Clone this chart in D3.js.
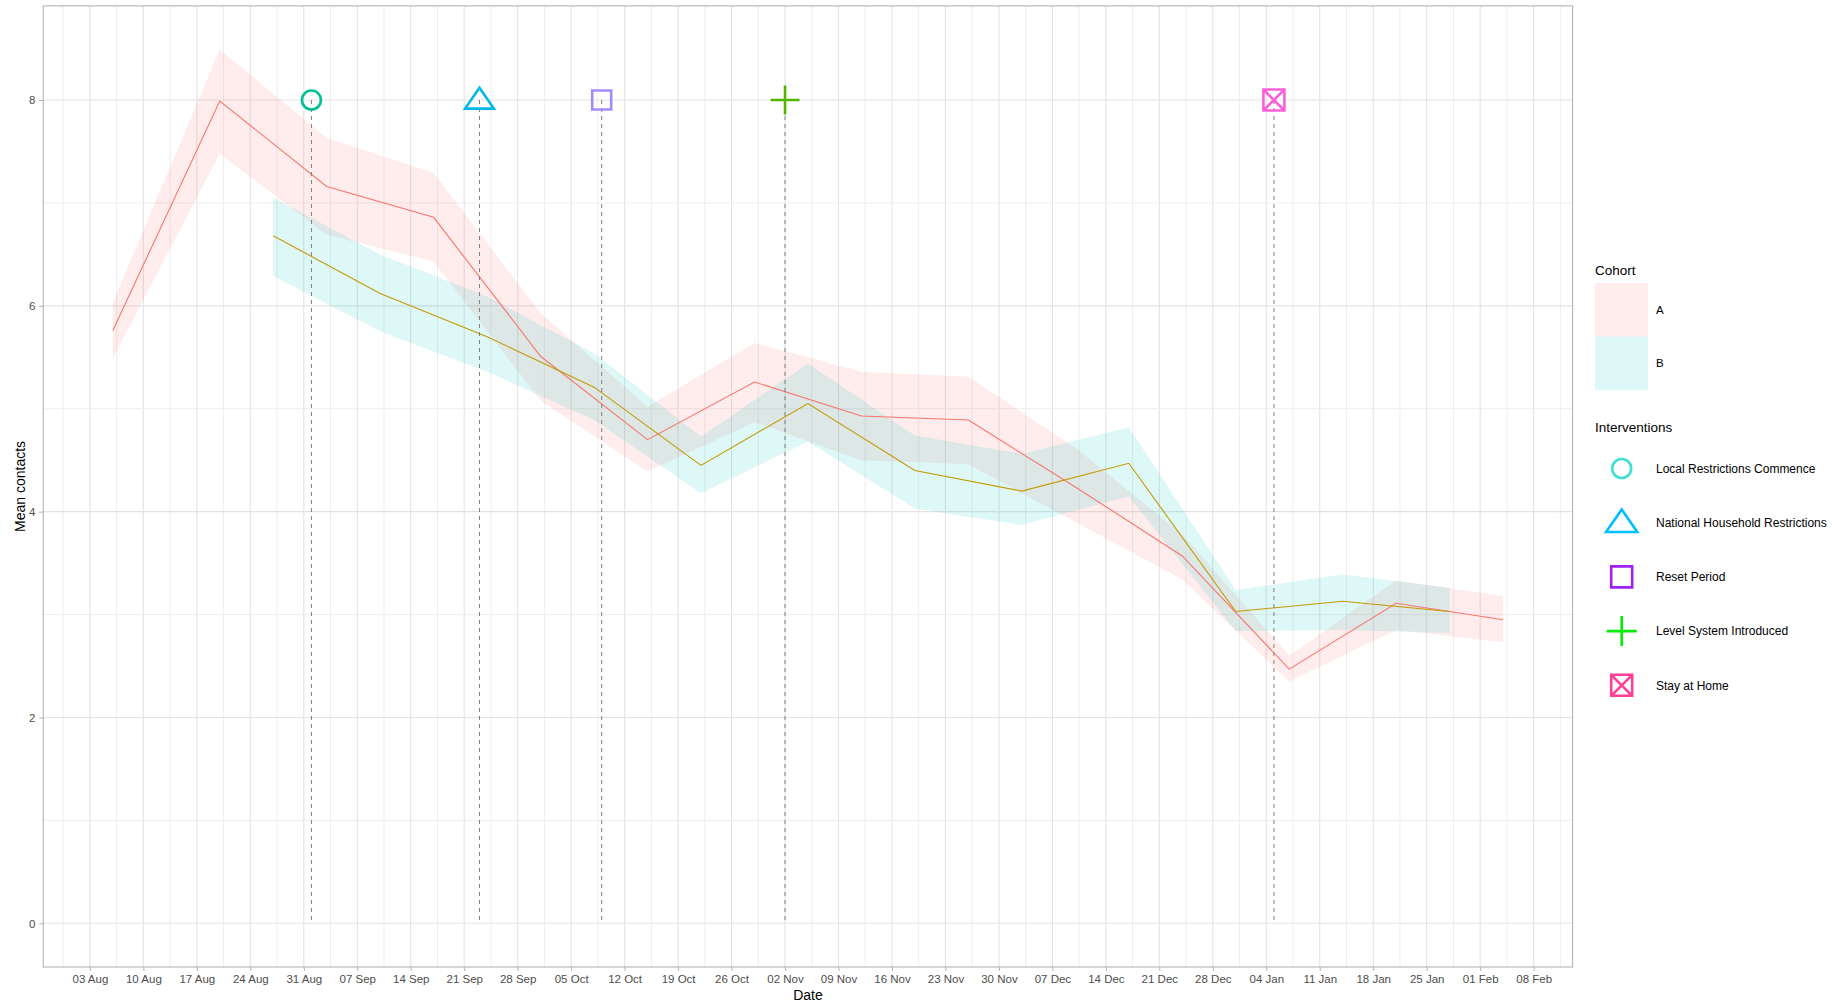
<!DOCTYPE html>
<html>
<head>
<meta charset="utf-8">
<script src="https://cdn.jsdelivr.net/npm/d3@7"></script>
<style>
  body { margin: 0; background: #fff; }
  svg { display: block; font-family: 'Liberation Sans', Arial, sans-serif; }
</style>
</head>
<body>
<div id="svg"></div>
<script>

// Cohort A, fortnightly means with confidence band.
var datesA = ['2020-08-06', '2020-08-20', '2020-09-03', '2020-09-17', '2020-10-01',
              '2020-10-15', '2020-10-29', '2020-11-12', '2020-11-26', '2020-12-10',
              '2020-12-24', '2021-01-07', '2021-01-21', '2021-02-04'];
var meanA = [5.76, 7.99, 7.16, 6.86, 5.51, 4.70, 5.26, 4.93, 4.89, 4.24, 3.57, 2.47, 3.11, 2.95];
var lowA  = [5.49, 7.48, 6.69, 6.43, 5.08, 4.39, 4.87, 4.50, 4.46, 3.90, 3.34, 2.35, 2.85, 2.73];
var highA = [6.03, 8.49, 7.63, 7.29, 5.93, 5.02, 5.64, 5.36, 5.31, 4.62, 3.78, 2.60, 3.33, 3.18];

// Cohort B.
var datesB = ['2020-08-27', '2020-09-10', '2020-09-24', '2020-10-08', '2020-10-22',
              '2020-11-05', '2020-11-19', '2020-12-03', '2020-12-17', '2020-12-31',
              '2021-01-14', '2021-01-28'];
var meanB = [6.68, 6.12, 5.70, 5.21, 4.45, 5.05, 4.40, 4.20, 4.47, 3.03, 3.13, 3.03];
var lowB  = [6.29, 5.75, 5.36, 4.89, 4.18, 4.68, 4.03, 3.87, 4.15, 2.84, 2.85, 2.82];
var highB = [7.05, 6.50, 6.09, 5.54, 4.73, 5.44, 4.74, 4.56, 4.82, 3.24, 3.39, 3.26];

// Interventions, all drawn at the same height.
var interventionNames = ['Local Restrictions Commence', 'National Household Restrictions',
                         'Reset Period', 'Level System Introduced', 'Stay at Home'];
var interventionDates = ['2020-09-01', '2020-09-23', '2020-10-09', '2020-11-02', '2021-01-05'];
var interventionLevel = 8;

var cohortNames = ['A', 'B'];
var yTicks = [0, 2, 4, 6, 8];


var config = {
  width: 1836,
  height: 1002,
  panel: { left: 43.3, right: 1572.6, top: 5.9, bottom: 967 },
  fontFamily: "'Liberation Sans', Arial, sans-serif"
};

var colors = {
  lineA: '#F8766D',
  lineB: '#C49A00',
  fillA: '#F8766D',
  fillB: '#00BFC4',
  grid: '#E3E3E3',
  border: '#B3B3B3',
  axisText: '#4D4D4D',
  // marker colours on the plot, and the ones used in the legend
  marks: ['#00C094', '#00B6EB', '#A58AFF', '#53B400', '#FB61D7'],
  keys: ['#40E0D0', '#00BFFF', '#A020F0', '#00EE00', '#FF3E96']
};
var shapes = ['circle', 'triangle', 'square', 'plus', 'boxx'];

function translate(x, y) {
  return 'translate(' + x + ', ' + y + ')';
}

var parse = d3.utcParse('%Y-%m-%d');

function rows(dates, mean, low, high) {
  return dates.map(function(d, i) {
    return { date: parse(d), mean: mean[i], low: low[i], high: high[i] };
  });
}

var dataA = rows(datesA, meanA, lowA, highA);
var dataB = rows(datesB, meanB, lowB, highB);
var interventions = interventionNames.map(function(n, i) {
  return { name: n, date: parse(interventionDates[i]), shape: shapes[i],
           mark: colors.marks[i], key: colors.keys[i] };
});

// Path for a marker shape centred on 0,0 (s is the full width).
function shapePath(shape, s) {
  var h = s / 2;
  if (shape === 'circle') {
    return d3.arc()({ innerRadius: 0, outerRadius: h, startAngle: 0, endAngle: 2 * Math.PI });
  }
  if (shape === 'triangle') {
    var t = s * 0.85;
    return 'M0,' + (-t * 0.6) + 'L' + (h * 1.2) + ',' + (t * 0.42) + 'L' + (-h * 1.2) + ',' + (t * 0.42) + 'Z';
  }
  if (shape === 'square') {
    return 'M' + (-h) + ',' + (-h) + 'H' + h + 'V' + h + 'H' + (-h) + 'Z';
  }
  if (shape === 'plus') {
    return 'M' + (-h) + ',0H' + h + 'M0,' + (-h) + 'V' + h;
  }
  // square with a cross inside
  return 'M' + (-h) + ',' + (-h) + 'H' + h + 'V' + h + 'H' + (-h) + 'Z' +
         'M' + (-h) + ',' + (-h) + 'L' + h + ',' + h + 'M' + h + ',' + (-h) + 'L' + (-h) + ',' + h;
}

var shapeSize = { circle: 19, triangle: 24, square: 19, plus: 29, boxx: 21 };
var keySize = { circle: 19, triangle: 26, square: 21, plus: 30, boxx: 21 };


var svg = d3.select('#svg').append('svg')
  .attr('width', config.width)
  .attr('height', config.height);

/**
 * Scales, with the 5% padding ggplot adds.
 **/
var allDates = dataA.concat(dataB).map(function(d) { return d.date; });
var xExt = d3.extent(allDates);
var xPad = (xExt[1] - xExt[0]) * 0.05;
var x = d3.scaleUtc()
  .domain([new Date(+xExt[0] - xPad), new Date(+xExt[1] + xPad)])
  .range([config.panel.left, config.panel.right]);

var yMax = d3.max(highA.concat(highB));
var yPad = yMax * 0.05;
var y = d3.scaleLinear()
  .domain([-yPad, yMax + yPad])
  .range([config.panel.bottom, config.panel.top]);

var panel = config.panel;

// Grid lines.
var weeks = d3.utcMonday.range(x.domain()[0], x.domain()[1]);
var halfWeeks = weeks.map(function(d) { return d3.utcHour.offset(d, -84); })
  .concat([d3.utcHour.offset(weeks[weeks.length - 1], 84)])
  .filter(function(d) { return d >= x.domain()[0] && d <= x.domain()[1]; });

var grid = svg.append('g');

grid.selectAll('.vminor').data(halfWeeks).enter()
  .append('line')
    .attr('x1', function(d) { return x(d); })
    .attr('x2', function(d) { return x(d); })
    .attr('y1', panel.top)
    .attr('y2', panel.bottom)
    .attr('stroke', '#EDEDED')
    .attr('stroke-width', 1);

grid.selectAll('.vmajor').data(weeks).enter()
  .append('line')
    .attr('x1', function(d) { return x(d); })
    .attr('x2', function(d) { return x(d); })
    .attr('y1', panel.top)
    .attr('y2', panel.bottom)
    .attr('stroke', colors.grid)
    .attr('stroke-width', 1.1);

grid.selectAll('.hminor').data(yTicks.slice(0, -1).map(function(v) { return v + 1; })).enter()
  .append('line')
    .attr('x1', panel.left)
    .attr('x2', panel.right)
    .attr('y1', function(d) { return y(d); })
    .attr('y2', function(d) { return y(d); })
    .attr('stroke', '#EDEDED')
    .attr('stroke-width', 1);

grid.selectAll('.hmajor').data(yTicks).enter()
  .append('line')
    .attr('x1', panel.left)
    .attr('x2', panel.right)
    .attr('y1', function(d) { return y(d); })
    .attr('y2', function(d) { return y(d); })
    .attr('stroke', colors.grid)
    .attr('stroke-width', 1.1);

/**
 * Ribbons and lines.
 **/
var area = d3.area()
  .x(function(d) { return x(d.date); })
  .y0(function(d) { return y(d.low); })
  .y1(function(d) { return y(d.high); });

var line = d3.line()
  .x(function(d) { return x(d.date); })
  .y(function(d) { return y(d.mean); });

svg.append('path').datum(dataA)
  .attr('d', area)
  .attr('fill', colors.fillA)
  .attr('fill-opacity', 0.13);

svg.append('path').datum(dataB)
  .attr('d', area)
  .attr('fill', colors.fillB)
  .attr('fill-opacity', 0.13);

svg.append('path').datum(dataA)
  .attr('d', line)
  .attr('fill', 'none')
  .attr('stroke', colors.lineA)
  .attr('stroke-width', 1.1);

svg.append('path').datum(dataB)
  .attr('d', line)
  .attr('fill', 'none')
  .attr('stroke', colors.lineB)
  .attr('stroke-width', 1.1);

/**
 * Intervention markers and their dashed drop lines.
 **/
svg.selectAll('.drop').data(interventions).enter()
  .append('line')
    .attr('x1', function(d) { return x(d.date); })
    .attr('x2', function(d) { return x(d.date); })
    .attr('y1', y(interventionLevel))
    .attr('y2', y(0))
    .attr('stroke', '#7F7F7F')
    .attr('stroke-width', 1)
    .attr('stroke-dasharray', '4, 4');

svg.selectAll('.mark').data(interventions).enter()
  .append('path')
    .attr('transform', function(d) { return translate(x(d.date), y(interventionLevel)); })
    .attr('d', function(d) { return shapePath(d.shape, shapeSize[d.shape]); })
    .attr('fill', 'none')
    .attr('stroke', function(d) { return d.mark; })
    .attr('stroke-width', 2.6);

// Panel border.
svg.append('rect')
  .attr('x', panel.left)
  .attr('y', panel.top)
  .attr('width', panel.right - panel.left)
  .attr('height', panel.bottom - panel.top)
  .attr('fill', 'none')
  .attr('stroke', colors.border)
  .attr('stroke-width', 1.1);

/**
 * Axes.
 **/
var xAxis = svg.append('g')
  .attr('transform', translate(0, panel.bottom))
  .call(d3.axisBottom(x).tickValues(weeks).tickFormat(d3.utcFormat('%d %b'))
    .tickSize(4).tickPadding(4));

var yAxis = svg.append('g')
  .attr('transform', translate(panel.left, 0))
  .call(d3.axisLeft(y).tickValues(yTicks).tickSize(4).tickPadding(4));

[xAxis, yAxis].forEach(function(a) {
  a.select('.domain').remove();
  a.selectAll('line').attr('stroke', colors.border);
  a.selectAll('text')
    .attr('fill', colors.axisText)
    .style('font-size', '11.5px')
    .style('font-family', config.fontFamily);
});

svg.append('text')
  .text('Date')
  .attr('x', (panel.left + panel.right) / 2)
  .attr('y', 1000)
  .attr('text-anchor', 'middle')
  .attr('fill', '#000')
  .style('font-size', '14px');

svg.append('text')
  .text('Mean contacts')
  .attr('transform', translate(25, (panel.top + panel.bottom) / 2) + ' rotate(-90)')
  .attr('text-anchor', 'middle')
  .attr('fill', '#000')
  .style('font-size', '14px');

/**
 * Legends.
 **/
var legend = { left: 1595, keyW: 53, keyH: 53.5, labelX: 1656, itemGap: 54.2 };

svg.append('text')
  .text('Cohort')
  .attr('x', legend.left)
  .attr('y', 275)
  .attr('fill', '#000')
  .style('font-size', '13.5px');

var cohortKeys = svg.selectAll('.ckey').data(cohortNames).enter()
  .append('g')
    .attr('transform', function(d, i) { return translate(legend.left, 283 + i * legend.keyH); });

cohortKeys.append('rect')
  .attr('width', legend.keyW)
  .attr('height', legend.keyH)
  .attr('fill', function(d, i) { return i === 0 ? colors.fillA : colors.fillB; })
  .attr('fill-opacity', 0.13);

cohortKeys.append('text')
  .text(function(d) { return d; })
  .attr('x', legend.labelX - legend.left)
  .attr('y', legend.keyH / 2)
  .attr('dy', '0.35em')
  .attr('fill', '#000')
  .style('font-size', '11.5px');

svg.append('text')
  .text('Interventions')
  .attr('x', legend.left)
  .attr('y', 432)
  .attr('fill', '#000')
  .style('font-size', '13.5px');

var interventionKeys = svg.selectAll('.ikey').data(interventions).enter()
  .append('g')
    .attr('transform', function(d, i) { return translate(legend.left, 468.5 + i * legend.itemGap); });

interventionKeys.append('path')
  .attr('transform', translate(26.7, 0))
  .attr('d', function(d) { return shapePath(d.shape, keySize[d.shape]); })
  .attr('fill', 'none')
  .attr('stroke', function(d) { return d.key; })
  .attr('stroke-width', 2.6);

interventionKeys.append('text')
  .text(function(d) { return d.name; })
  .attr('x', legend.labelX - legend.left)
  .attr('dy', '0.35em')
  .attr('fill', '#000')
  .style('font-size', '12px');

</script>
</body>
</html>
